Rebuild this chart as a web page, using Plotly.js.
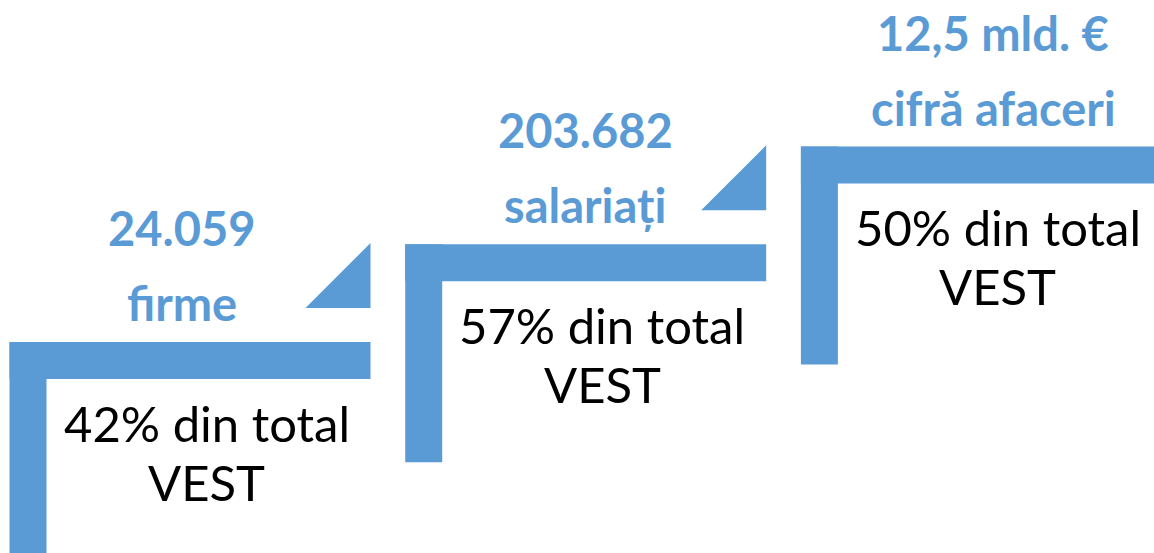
<!DOCTYPE html>
<html>
<head>
<meta charset="utf-8">
<script src="https://cdn.plot.ly/plotly-3.0.1.min.js"></script>
<style>html,body{margin:0;padding:0;background:#fff;}#chart{width:1154px;height:553px;}</style>
</head>
<body>
<div id="chart"></div>
<script>
// ---- data ----
const metricValues = ["24.059", "203.682", "12,5 mld. €"];
const metricLabels = ["firme", "salariați", "cifră afaceri"];
const sharePercent = [42, 57, 50];
const regionName = "VEST";

// ---- geometry / style ----
const W = 1154, H = 553;
const BLUE = "#5B9BD5";
const stepLeft0 = 9.5, stepDX = 395.7;
const stepTop0 = 342, stepDY = 97.7;
const barT = 37, barLen = 361, legLen = 218;
const triW = 65, triTopOff = 99, triBotOff = 34;
const valueCx = [181.7, 585.3, 993.3];
const FONT = "Lato, 'Liberation Sans', sans-serif";

const shapes = [];
const annotations = [];
metricValues.forEach((v, i) => {
  const left = stepLeft0 + stepDX * i;
  const top = stepTop0 - stepDY * i;
  const right = Math.min(left + barLen, W + 5);
  // horizontal bar
  shapes.push({type: "rect", xref: "x", yref: "y", x0: left, x1: right, y0: top, y1: top + barT,
    fillcolor: BLUE, line: {width: 0}});
  // vertical leg
  shapes.push({type: "rect", xref: "x", yref: "y", x0: left, x1: left + barT, y0: top, y1: top + legLen,
    fillcolor: BLUE, line: {width: 0}});
  // connecting triangle (only between steps)
  if (i < metricValues.length - 1) {
    const tr = left + barLen;
    shapes.push({type: "path", xref: "x", yref: "y",
      path: `M ${tr} ${top - triTopOff} L ${tr} ${top - triBotOff} L ${tr - triW} ${top - triBotOff} Z`,
      fillcolor: BLUE, line: {width: 0}});
  }
  // blue value + label
  annotations.push({xref: "x", yref: "y", x: valueCx[i], y: top - 97 - 17, xanchor: "center", yanchor: "middle",
    text: `<b>${v}</b>`, showarrow: false, font: {family: FONT, size: 47, color: BLUE}});
  annotations.push({xref: "x", yref: "y", x: valueCx[i], y: top - 22 - 17, xanchor: "center", yanchor: "middle",
    text: `<b>${metricLabels[i]}</b>`, showarrow: false, font: {family: FONT, size: 47, color: BLUE}});
  // black share text
  const cx = left + 197;
  annotations.push({xref: "x", yref: "y", x: cx, y: top + 98 - 17.5, xanchor: "center", yanchor: "middle",
    text: `${sharePercent[i]}% din total`, showarrow: false, font: {family: FONT, size: 49, color: "#000"}});
  annotations.push({xref: "x", yref: "y", x: cx, y: top + 157 - 17.5, xanchor: "center", yanchor: "middle",
    text: regionName, showarrow: false, font: {family: FONT, size: 49, color: "#000"}});
});

const layout = {
  width: W, height: H,
  margin: {l: 0, r: 0, t: 0, b: 0},
  paper_bgcolor: "#fff", plot_bgcolor: "#fff",
  xaxis: {range: [0, W], visible: false, fixedrange: true},
  yaxis: {range: [H, 0], visible: false, fixedrange: true},
  shapes: shapes,
  annotations: annotations,
  showlegend: false
};
Plotly.newPlot("chart", [{x: [], y: [], type: "scatter", hoverinfo: "skip"}], layout, {displayModeBar: false, staticPlot: true});
</script>
</body>
</html>
